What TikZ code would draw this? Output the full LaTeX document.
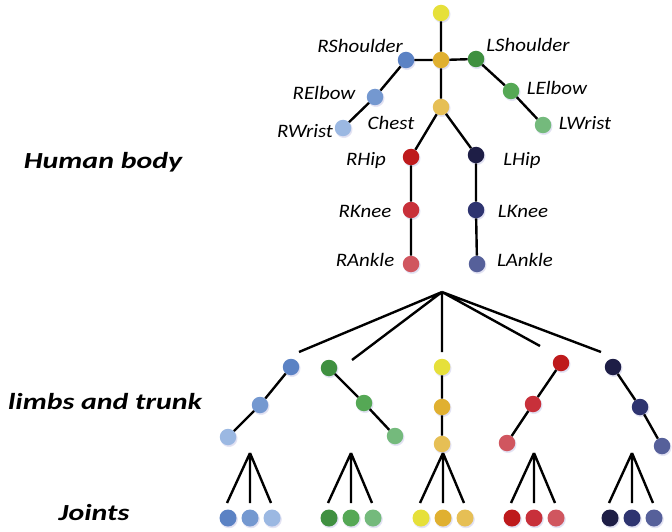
\documentclass[tikz,border=0pt]{standalone}
\usepackage{fontspec}
\setmainfont{Carlito}
\newfontfamily\labelfont[FakeStretch=1.1]{Carlito}
\newfontfamily\levelfont[FakeStretch=1.3]{Carlito}
\usetikzlibrary{shadows}
\definecolor{cHead}{HTML}{E6E03A}
\definecolor{cNeck}{HTML}{E0B030}
\definecolor{cChest}{HTML}{E6BF55}
\definecolor{cBa}{HTML}{5B82C4}
\definecolor{cBb}{HTML}{7498D0}
\definecolor{cBc}{HTML}{9BB8E2}
\definecolor{cGa}{HTML}{3F9040}
\definecolor{cGb}{HTML}{55A855}
\definecolor{cGc}{HTML}{74BA7C}
\definecolor{cRa}{HTML}{BE1A1C}
\definecolor{cRb}{HTML}{C8303A}
\definecolor{cRc}{HTML}{D0565F}
\definecolor{cNa}{HTML}{1E1E46}
\definecolor{cNb}{HTML}{2E3470}
\definecolor{cNc}{HTML}{56609A}
\tikzset{
  jt/.style={circle, inner sep=0pt, minimum size=16.5pt, fill=#1,
    circular drop shadow={shadow xshift=0.6pt, shadow yshift=-1pt, opacity=0.18, fill=blue!40!gray}},
  bone/.style={line width=2.4pt, black},
  lbl/.style={font=\labelfont\fontsize{19}{22}\selectfont\itshape, inner sep=0pt},
  sec/.style={font=\levelfont\fontsize{23}{28}\selectfont\bfseries\itshape, inner sep=0pt},
}
\begin{document}
\begin{tikzpicture}[x=1pt,y=-1pt]
\useasboundingbox (0,0) rectangle (672,532);

% ---------- skeleton ----------
\node[jt=cHead]  (head)  at (441,13)  {};
\node[jt=cNeck]  (neck)  at (441,60)  {};
\node[jt=cBa]    (rsh)   at (406,60)  {};
\node[jt=cGa]    (lsh)   at (476,59)  {};
\node[jt=cBb]    (rel)   at (375,97)  {};
\node[jt=cGb]    (lel)   at (511,91)  {};
\node[jt=cBc]    (rwr)   at (343,128) {};
\node[jt=cGc]    (lwr)   at (543,125) {};
\node[jt=cChest] (chest) at (441,107) {};
\node[jt=cRa]    (rhip)  at (411,157) {};
\node[jt=cNa]    (lhip)  at (476,155) {};
\node[jt=cRb]    (rkn)   at (411,210) {};
\node[jt=cNb]    (lkn)   at (476,210) {};
\node[jt=cRc]    (ran)   at (411,264) {};
\node[jt=cNc]    (lan)   at (477,264) {};

\draw[bone] (head) -- (neck) (neck) -- (rsh) (neck) -- (lsh)
  (rsh) -- (rel) (rel) -- (rwr) (lsh) -- (lel) (lel) -- (lwr)
  (neck) -- (chest) (chest) -- (rhip) (chest) -- (lhip)
  (rhip) -- (rkn) (rkn) -- (ran) (lhip) -- (lkn) (lkn) -- (lan);

\node[lbl] (tRsh) at (360,46)  {RShoulder};
\node[lbl] (tLsh) at (528,45)  {LShoulder};
\node[lbl] (tRel) at (324,93)  {RElbow};
\node[lbl] (tLel) at (557,88)  {LElbow};
\node[lbl] (tRwr) at (305,131) {RWrist};
\node[lbl] (tLwr) at (585,123) {LWrist};
\node[lbl] (tCh)  at (391,123) {Chest};
\node[lbl] (tRhp) at (366,160) {RHip};
\node[lbl] (tLhp) at (522,160) {LHip};
\node[lbl] (tRkn) at (365,211) {RKnee};
\node[lbl] (tLkn) at (523,211) {LKnee};
\node[lbl] (tRan) at (365,260) {RAnkle};
\node[lbl] (tLan) at (525,260) {LAnkle};

% ---------- split into limbs and trunk ----------
\coordinate (hub) at (442,292);
\coordinate (e1) at (299,352);
\coordinate (e2) at (352,360);
\coordinate (e3) at (442,352);
\coordinate (e4) at (540,346);
\coordinate (e5) at (601,352);
\draw[bone] (hub) -- (e1) (hub) -- (e2) (hub) -- (e3) (hub) -- (e4) (hub) -- (e5);

\node[jt=cBa] (ra1) at (291,367) {};
\node[jt=cBb] (ra2) at (260,405) {};
\node[jt=cBc] (ra3) at (228,437) {};
\node[jt=cGa] (la1) at (329,368) {};
\node[jt=cGb] (la2) at (364,403) {};
\node[jt=cGc] (la3) at (395,436) {};
\node[jt=cHead]  (tr1) at (442,367) {};
\node[jt=cNeck]  (tr2) at (442,407) {};
\node[jt=cChest] (tr3) at (442,444) {};
\node[jt=cRa] (rl1) at (561,363) {};
\node[jt=cRb] (rl2) at (533,404) {};
\node[jt=cRc] (rl3) at (507,443) {};
\node[jt=cNa] (ll1) at (613,367) {};
\node[jt=cNb] (ll2) at (640,407) {};
\node[jt=cNc] (ll3) at (662,446) {};
\draw[bone] (ra1) -- (ra2) (ra2) -- (ra3) (la1) -- (la2) (la2) -- (la3)
  (tr1) -- (tr2) (tr2) -- (tr3) (rl1) -- (rl2) (rl2) -- (rl3)
  (ll1) -- (ll2) (ll2) -- (ll3);

% ---------- single joints ----------
\foreach \nm/\cx/\ca/\cb/\cc in {b/250/cBa/cBb/cBc, g/351/cGa/cGb/cGc,
    y/443/cHead/cNeck/cChest, r/534/cRa/cRb/cRc, n/632/cNa/cNb/cNc}{
  \coordinate (\nm apex) at (\cx,453);
  \coordinate (\nm L) at (\cx-23,503);
  \coordinate (\nm M) at (\cx,503);
  \coordinate (\nm R) at (\cx+21,503);
  \draw[bone] (\nm apex) -- (\nm L) (\nm apex) -- (\nm M) (\nm apex) -- (\nm R);
  \node[jt=\ca, minimum size=17pt] (\nm j1) at (\cx-22,518) {};
  \node[jt=\cb, minimum size=17pt] (\nm j2) at (\cx,518) {};
  \node[jt=\cc, minimum size=17pt] (\nm j3) at (\cx+22,518) {};
}

% ---------- level captions ----------
\node[sec] (sHB) at (103,162) {Human body};
\node[sec] (sLT) at (105,402) {limbs and trunk};
\node[sec] (sJ)  at (94,513)  {Joints};
\end{tikzpicture}
\end{document}
